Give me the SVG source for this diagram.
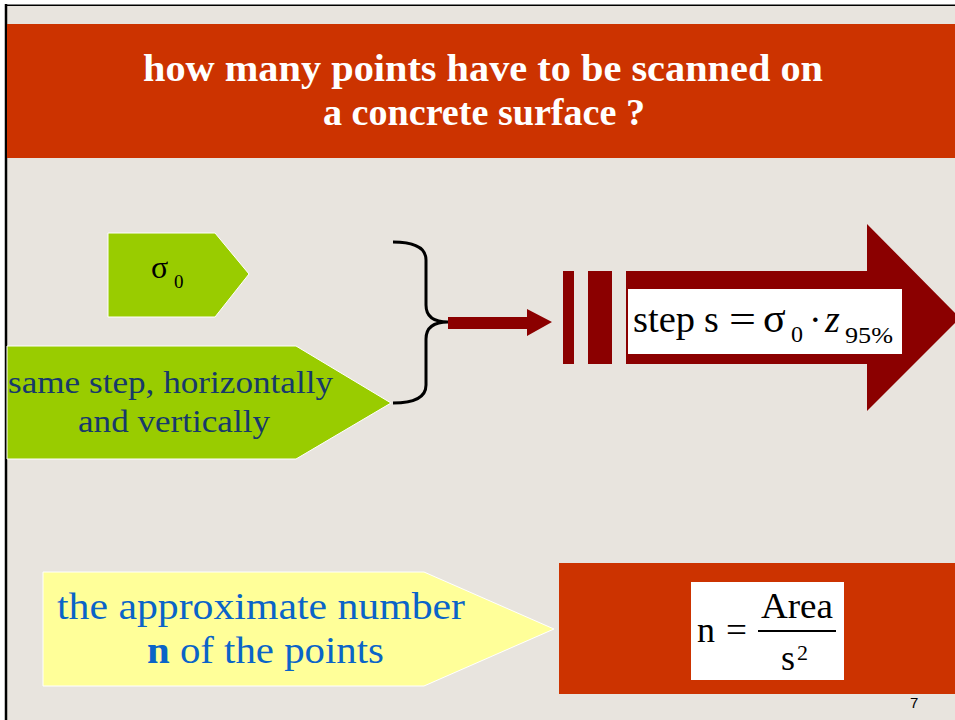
<svg xmlns="http://www.w3.org/2000/svg" width="955" height="720" viewBox="0 0 955 720">
<defs>
<style>
.serif{font-family:"Liberation Serif","Times New Roman",serif;}
.title{fill:#ffffff;font-weight:bold;font-size:38px;}
.math{fill:#000000;}
.green{fill:#99CC00;stroke:#ffffff;stroke-width:1;}
.navy{fill:#17396B;font-size:32px;}
.blue{fill:#0A64C8;font-size:38px;}
.maroon{fill:#8B0000;}
</style>
</defs>
<rect x="0" y="0" width="955" height="720" fill="#ffffff"/>
<rect x="6" y="5" width="955" height="720" fill="#E8E4DE"/>
<line x1="5" y1="4.5" x2="955" y2="4.5" stroke="#808080" stroke-width="1"/>
<line x1="5" y1="5.5" x2="955" y2="5.5" stroke="#000000" stroke-width="1"/>
<line x1="6" y1="4" x2="6" y2="720" stroke="#000000" stroke-width="2.5"/>
<g id="title">
<rect x="7" y="24" width="948" height="134" fill="#CC3300"/>
<text class="serif title" x="483" y="81" text-anchor="middle" textLength="680" lengthAdjust="spacingAndGlyphs">how many points have to be scanned on</text>
<text class="serif title" x="484" y="125" text-anchor="middle" textLength="322" lengthAdjust="spacingAndGlyphs">a concrete surface ?</text>
</g>
<g id="sigma">
<polygon class="green" points="108,233 215,233 249,274 215,317 108,317"/>
<text class="serif math" x="151" y="278" font-size="32">σ</text>
<text class="serif math" x="174" y="288" font-size="19">0</text>
</g>
<g id="same-step">
<polygon class="green" points="7,346 296,346 391,403 296,459 7,459"/>
<text class="serif navy" x="170.5" y="393" text-anchor="middle" textLength="325" lengthAdjust="spacingAndGlyphs">same step, horizontally</text>
<text class="serif navy" x="174" y="432" text-anchor="middle" textLength="192" lengthAdjust="spacingAndGlyphs">and vertically</text>
</g>
<g id="connectors">
<path d="M393,242 Q426,242 426,260 L426,305 Q426,322 448,322 Q426,322 426,339 L426,385 Q426,403 393,403" fill="none" stroke="#000000" stroke-width="3"/>
<polygon class="maroon" points="448,317 527,317 527,309 552,322 527,336 527,329 448,329"/>
</g>
<g id="step-formula">
<rect class="maroon" x="563" y="271" width="11" height="93"/>
<rect class="maroon" x="588" y="271" width="24" height="93"/>
<polygon class="maroon" points="626,271 867,271 867,224 960,318 867,411 867,364 626,364"/>
<rect x="628" y="289" width="274" height="65" fill="#ffffff"/>
<text class="serif math" x="633" y="332" font-size="38" textLength="62" lengthAdjust="spacingAndGlyphs">step</text>
<text class="serif math" x="704" y="332" font-size="38">s</text>
<text class="serif math" x="729" y="332" font-size="38" textLength="27" lengthAdjust="spacingAndGlyphs">=</text>
<text class="serif math" x="763" y="332" font-size="42">σ</text>
<text class="serif math" x="791" y="342" font-size="24">0</text>
<text class="serif math" x="809" y="332" font-size="38">·</text>
<text class="serif math" x="825" y="332" font-size="38" font-style="italic">z</text>
<text class="serif math" x="845" y="343" font-size="23" textLength="48" lengthAdjust="spacingAndGlyphs">95%</text>
</g>
<g id="approx">
<polygon points="43,572 424,572 554,629 424,686 43,686" fill="#FFFF99" stroke="#ffffff" stroke-width="1"/>
<text class="serif blue" x="261" y="619" text-anchor="middle" textLength="408" lengthAdjust="spacingAndGlyphs">the approximate number</text>
<text class="serif blue" x="147" y="663" textLength="237" lengthAdjust="spacingAndGlyphs"><tspan font-weight="bold">n</tspan> of the points</text>
</g>
<g id="n-formula">
<rect x="559" y="563" width="396" height="131" fill="#CC3300"/>
<rect x="691" y="582" width="153" height="98" fill="#ffffff"/>
<text class="serif math" x="697" y="642" font-size="36">n</text>
<text class="serif math" x="726" y="642" font-size="36" textLength="21" lengthAdjust="spacingAndGlyphs">=</text>
<line x1="758" y1="631" x2="836" y2="631" stroke="#000000" stroke-width="2"/>
<text class="serif math" x="761" y="618" font-size="36" textLength="72" lengthAdjust="spacingAndGlyphs">Area</text>
<text class="serif math" x="781" y="670" font-size="36">s</text>
<text class="serif math" x="797" y="660" font-size="22">2</text>
</g>
<text x="910" y="708" font-family="Liberation Sans, sans-serif" font-size="15" fill="#000000">7</text>
</svg>
